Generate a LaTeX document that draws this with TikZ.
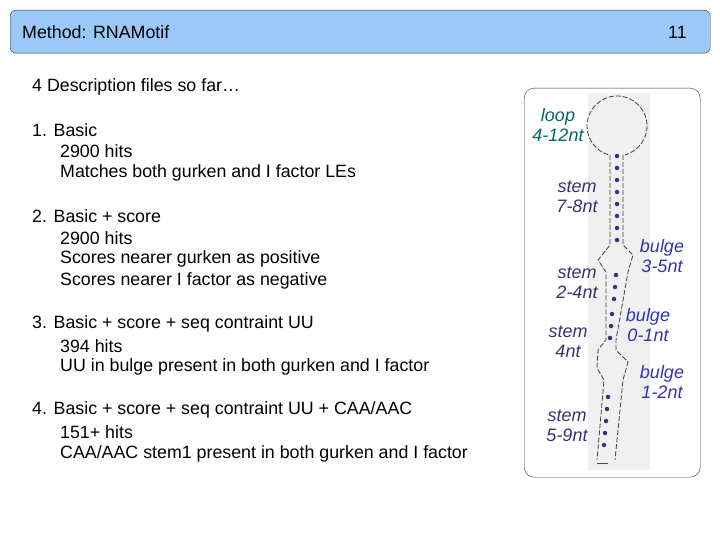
\documentclass[tikz,border=0pt]{standalone}
\usepackage{fontspec}
\setmainfont{Liberation Sans}
\definecolor{titlebg}{HTML}{9CC8F8}
\begin{document}
\begin{tikzpicture}[x=1pt,y=-1pt,
  txt/.style={anchor=west,font=\fontsize{17.8}{18}\selectfont,inner sep=0pt},
  lbl/.style={font=\fontsize{18}{20}\selectfont\itshape,align=center,inner sep=0pt},
  strand/.style={black!75,dashed,dash pattern=on 5pt off 2pt,line width=0.8pt},
  bp/.style={circle,fill=blue!40!black!80,inner sep=0pt,minimum size=4.5pt}]
\useasboundingbox (0,0) rectangle (720,540);
\node[draw=black!80,fill=titlebg,rounded corners=6pt,minimum width=700pt,minimum height=43pt,anchor=north west,inner sep=0pt] (title) at (10,10) {};
\node[txt] (t1) at (22,32) {Method: RNAMotif};
\node[txt] (t2) at (668,32) {11};
\node[txt] (a0) at (32,87) {4 Description files so far\dots};
\node[txt] (a1) at (32,130) {1. Basic};
\node[txt] (a2) at (60,151) {2900 hits};
\node[txt] (a3) at (60,173) {Matches both gurken and I factor LEs};
\node[txt] (b1) at (32,216) {2. Basic + score};
\node[txt] (b2) at (60,238) {2900 hits};
\node[txt] (b3) at (60,259) {Scores nearer gurken as positive};
\node[txt] (b4) at (60,281) {Scores nearer I factor as negative};
\node[txt] (c1) at (32,324) {3. Basic + score + seq contraint UU};
\node[txt] (c2) at (60,346) {394 hits};
\node[txt] (c3) at (60,367) {UU in bulge present in both gurken and I factor};
\node[txt] (d1) at (32,410) {4. Basic + score + seq contraint UU + CAA/AAC};
\node[txt] (d2) at (60,432) {151+ hits};
\node[txt] (d3) at (60,454) {CAA/AAC stem1 present in both gurken and I factor};
% figure
\node[draw=black!80,rounded corners=10pt,minimum width=176pt,minimum height=389pt,anchor=north west,inner sep=0pt] (fig) at (524,88) {};
\fill[black!6] (588,93) rectangle (650,470);
\draw[strand] (617,126) circle (30);
\fill[black!6] (609,152) rectangle (625,160);
\draw[strand] (610,155) -- (610,245) -- (598,260) -- (606,272) -- (606,340) -- (598,350) -- (597,368) -- (604,380) -- (597,460);
\draw[strand] (623,155) -- (623,245) -- (633,255) -- (628,272) -- (616,340) -- (616,350) -- (628,362) -- (623,380) -- (615,460);
\draw[black!70] (597,463) -- (608,463);
\foreach \y in {156,168,180,192,204,216,228,240}{\node[bp] at (617,\y) {};}
\foreach \x/\y in {616/275, 615/287, 614/299, 612/314, 611/326, 610/338}{\node[bp] at (\x,\y) {};}
\foreach \x/\y in {608/397, 607/409, 606/421, 605/433, 604/445}{\node[bp] at (\x,\y) {};}
\node[lbl,text=teal!80!black] (l1) at (558,125) {loop\\4-12nt};
\node[lbl,text=blue!30!black!80] (l2) at (577,197) {stem\\7-8nt};
\node[lbl,text=blue!60!black!80] (l3) at (662,256) {bulge\\3-5nt};
\node[lbl,text=blue!30!black!80] (l4) at (577,283) {stem\\2-4nt};
\node[lbl,text=blue!60!black!80] (l5) at (648,325) {bulge\\0-1nt};
\node[lbl,text=blue!30!black!80] (l6) at (568,342) {stem\\4nt};
\node[lbl,text=blue!60!black!80] (l7) at (662,382) {bulge\\1-2nt};
\node[lbl,text=blue!30!black!80] (l8) at (567,426) {stem\\5-9nt};
\end{tikzpicture}
\end{document}
